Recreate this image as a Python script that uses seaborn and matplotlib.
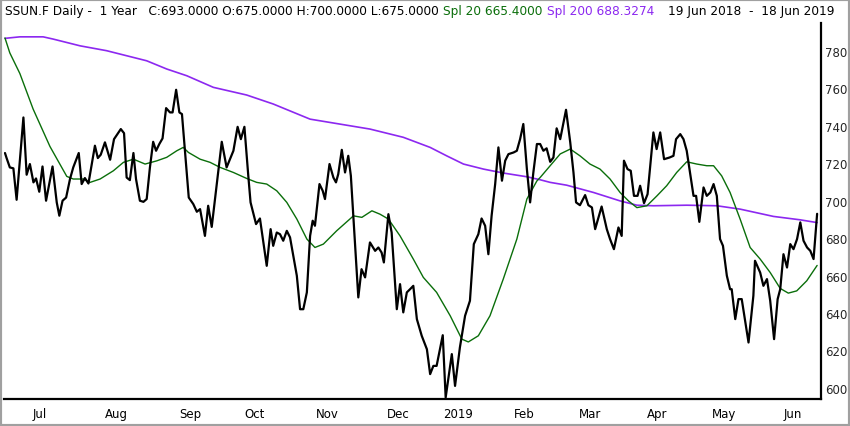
"""
SSUN.F daily price, 1 year, with 20 and 200 day simple moving averages
"""
import pandas as pd
import matplotlib
matplotlib.use("Agg")
import matplotlib.pyplot as plt
from matplotlib.patches import Rectangle
import seaborn as sns

# trading-day index (0 = 19 Jun 2018) and closing price
price_day = [
    0.0, 0.5, 1.5, 2.6, 3.6, 5.7, 6.7, 7.7, 8.8, 9.6, 10.6, 11.6, 12.7, 14.7, 16.0,
    16.8, 17.8, 18.9, 20.1, 21.1, 22.8, 23.7, 24.7, 25.8, 27.8, 28.7, 29.6, 30.9,
    32.5, 33.7, 35.8, 36.8, 37.6, 38.6, 39.7, 40.5, 41.7, 42.8, 43.8, 44.8, 45.8,
    46.7, 47.7, 48.7, 49.8, 51.0, 51.8, 52.9, 53.9, 54.7, 56.8, 58.2, 59.3, 60.3,
    61.8, 62.8, 63.9, 67.0, 68.5, 70.6, 71.9, 72.9, 74.0, 75.2, 75.9, 77.6, 78.8,
    80.9, 82.1, 82.9, 84.0, 85.0, 86.0, 87.1, 88.1, 89.1, 90.2, 91.2, 92.2, 93.3,
    94.3, 95.1, 95.8, 97.2, 98.2, 98.9, 100.3, 101.5, 102.3, 103.0, 104.1, 105.1,
    106.1, 106.9, 109.2, 110.2, 111.3, 112.8, 114.4, 115.4, 116.4, 117.1, 118.5,
    119.5, 121.1, 122.1, 123.1, 124.2, 125.2, 126.2, 127.3, 128.8, 130.4, 131.4,
    132.4, 133.4, 135.3, 136.2, 137.0, 138.1, 139.1, 140.6, 142.2, 143.7, 144.9,
    146.3, 147.3, 148.4, 149.4, 150.4, 151.5, 152.5, 153.6, 154.6, 155.6, 157.2,
    158.2, 159.2, 160.2, 161.3, 162.3, 163.3, 164.4, 165.4, 166.4, 167.4, 168.5,
    169.5, 170.5, 171.6, 173.4, 174.7, 175.7, 176.5, 177.7, 179.3, 180.3, 181.4,
    182.4, 184.4, 186.0, 187.0, 188.2, 189.6, 190.6, 191.3, 192.4, 193.4, 194.4,
    195.5, 196.3, 197.5, 198.6, 200.4, 201.4, 202.5, 203.7, 205.4, 206.6, 207.4,
    208.7, 209.7, 210.7, 212.0, 212.8, 213.6, 214.6, 215.9, 216.9, 218.0, 219.0,
    220.0, 221.0, 221.9, 223.1, 224.1, 224.6, 225.7, 226.7, 227.7, 229.8, 231.3,
    231.8, 233.4, 234.4, 235.5, 236.5, 237.7, 238.8, 239.6, 240.6, 241.7, 242.7,
    243.7, 244.8, 245.8, 246.8, 247.9, 248.9, 249.9, 251.0,
]
price_val = [
    725.5, 722.8, 717.8, 717.3, 700.5, 744.5, 713.9, 719.6, 709.8, 711.9, 704.8,
    718.3, 700.0, 718.3, 699.1, 692.0, 700.0, 701.7, 711.6, 717.8, 725.5, 708.9,
    712.1, 709.2, 729.4, 722.8, 724.6, 731.2, 721.9, 732.9, 738.3, 736.1, 712.4,
    711.0, 725.5, 711.6, 700.0, 699.4, 700.9, 717.8, 731.5, 726.7, 730.3, 733.3,
    749.5, 747.2, 747.2, 759.3, 747.2, 746.3, 701.7, 698.2, 694.1, 695.5, 681.2,
    697.3, 686.0, 731.5, 717.8, 726.7, 739.5, 732.9, 739.5, 713.3, 699.1, 687.5,
    690.5, 665.2, 684.8, 675.9, 683.0, 682.1, 678.6, 683.9, 680.4, 670.5, 659.9,
    642.0, 642.0, 651.0, 681.2, 689.3, 686.6, 708.9, 705.3, 700.9, 719.6, 712.4,
    709.8, 714.2, 727.2, 715.1, 724.0, 713.3, 648.3, 663.4, 659.0, 677.7, 673.2,
    675.0, 672.3, 667.0, 692.8, 683.0, 642.0, 655.4, 640.3, 651.0, 652.7, 654.5,
    636.7, 627.8, 620.6, 607.3, 611.7, 611.7, 628.1, 594.8, 604.6, 618.0, 601.0,
    621.6, 638.5, 646.5, 676.8, 682.1, 690.5, 686.6, 671.4, 692.0, 708.9, 728.5,
    710.7, 721.4, 724.9, 725.8, 726.7, 732.9, 741.0, 716.9, 699.1, 715.1, 730.3,
    730.3, 726.7, 728.0, 720.8, 723.1, 738.7, 732.9, 748.6, 731.2, 715.1, 699.1,
    697.6, 703.0, 697.6, 696.4, 684.8, 696.9, 684.8, 679.5, 674.1, 685.7, 681.2,
    721.4, 716.9, 716.0, 702.6, 702.6, 708.0, 698.7, 703.5, 736.5, 727.6, 736.5,
    722.2, 723.1, 724.0, 732.9, 735.6, 732.9, 726.7, 711.6, 702.6, 702.6, 688.7,
    707.1, 702.6, 704.4, 708.9, 702.6, 679.5, 675.9, 659.9, 652.7, 652.7, 636.7,
    647.4, 647.4, 624.2, 649.2, 667.9, 661.6, 654.5, 658.1, 646.5, 626.0, 647.4,
    652.7, 671.4, 664.3, 676.8, 674.1, 679.5, 688.4, 678.6, 675.0, 673.2, 668.8,
    693.0,
]

# 20 day simple moving average
spl20_day = [
    0.0, 1.5, 4.6, 8.7, 13.9, 19.1, 21.1, 24.2, 26.3, 29.4, 33.5, 36.6, 39.7, 43.3,
    46.9, 50.0, 53.1, 55.1, 56.7, 60.3, 63.4, 66.5, 70.6, 74.7, 77.8, 80.9, 84.0,
    87.1, 90.2, 93.3, 95.8, 98.4, 102.5, 107.7, 110.3, 113.4, 115.9, 118.5, 122.1,
    126.2, 129.3, 133.4, 137.6, 141.2, 143.2, 146.3, 149.9, 154.0, 158.2, 161.3,
    164.4, 165.4, 168.5, 171.6, 174.7, 177.7, 180.8, 183.9, 187.0, 190.1, 192.7,
    195.3, 198.4, 201.5, 204.5, 207.6, 210.7, 213.8, 216.9, 219.0, 221.5, 224.1,
    227.2, 230.3, 233.4, 236.5, 239.6, 242.1, 244.7, 247.8, 251.0,
]
spl20_val = [
    787.0, 779.0, 768.0, 749.0, 729.0, 713.0, 711.6, 711.6, 709.8, 711.6, 716.0,
    720.5, 722.2, 719.6, 721.3, 723.2, 726.7, 728.5, 725.8, 722.2, 720.5, 717.8,
    715.1, 711.9, 709.8, 708.9, 705.3, 699.1, 690.2, 679.5, 675.0, 676.8, 683.9,
    691.9, 691.1, 694.6, 692.8, 690.2, 681.2, 668.8, 659.0, 651.0, 638.5, 626.0,
    624.5, 627.8, 638.5, 658.1, 679.5, 700.9, 710.6, 712.4, 718.7, 725.0, 727.6,
    724.0, 719.6, 716.9, 711.6, 704.4, 699.9, 696.3, 697.3, 702.6, 708.0, 715.1,
    720.8, 719.6, 718.7, 718.7, 713.3, 704.4, 690.2, 675.0, 668.8, 661.6, 653.1,
    650.6, 651.8, 657.2, 665.4,
]

# 200 day simple moving average
spl200_day = [
    0.0, 4.6, 11.8, 14.9, 23.2, 31.4, 43.8, 50.0, 56.2, 64.4, 74.7, 82.9, 91.2,
    94.3, 112.8, 123.1, 131.4, 136.5, 141.7, 147.9, 154.0, 161.3, 165.4, 168.5,
    173.6, 181.9, 190.1, 195.3, 200.4, 210.7, 220.0, 227.2, 237.5, 245.7, 251.0,
]
spl200_val = [
    786.8, 787.6, 787.6, 786.4, 782.8, 780.2, 774.8, 770.4, 766.8, 760.6, 756.5,
    751.7, 745.8, 743.6, 738.3, 733.9, 728.5, 724.0, 719.6, 716.9, 714.8, 712.8,
    711.2, 709.8, 708.3, 704.4, 699.9, 697.6, 697.3, 697.6, 697.3, 695.5, 691.6,
    689.8, 688.3,
]

# month labels and where they sit on the trading-day axis
month_labels = ["Jul", "Aug", "Sep", "Oct", "Nov", "Dec", "2019",
                "Feb", "Mar", "Apr", "May", "Jun"]
month_days = [8.7, 30.9, 53.8, 73.9, 96.1, 118.1, 135.4,
              157.3, 177.4, 198.4, 218.5, 240.8]

price_ticks = [600, 620, 640, 660, 680, 700, 720, 740, 760, 780]

GREEN = "#0a6e0a"
PURPLE = "#8c28f0"


def main():
    sns.set_style("white")
    plt.rcParams["font.family"] = ["DejaVu Sans"]

    price = pd.DataFrame({"day": price_day, "close": price_val})
    spl20 = pd.DataFrame({"day": spl20_day, "value": spl20_val})
    spl200 = pd.DataFrame({"day": spl200_day, "value": spl200_val})

    fig = plt.figure(figsize=(8.5, 4.27), dpi=100)
    ax = fig.add_axes([4 / 850, 27 / 427, 817 / 850, 376 / 427])

    sns.lineplot(data=spl200, x="day", y="value", color=PURPLE, linewidth=1.2,
                 estimator=None, ax=ax)
    sns.lineplot(data=spl20, x="day", y="value", color=GREEN, linewidth=1.0,
                 estimator=None, ax=ax)
    sns.lineplot(data=price, x="day", y="close", color="black", linewidth=1.6,
                 estimator=None, ax=ax)

    ax.set_xlim(-0.3, 252.2)
    ax.set_ylim(594, 795)
    ax.set_xlabel("")
    ax.set_ylabel("")

    ax.set_xticks(month_days)
    ax.set_xticklabels(month_labels, ha="left", fontsize=8.5)
    ax.tick_params(axis="x", direction="out", length=5, width=1.5, pad=1,
                   colors="black")

    ax.yaxis.tick_right()
    ax.set_yticks(price_ticks)
    ax.set_yticklabels([str(t) for t in price_ticks], fontsize=8.5)
    ax.tick_params(axis="y", length=0, pad=3)

    for side in ["left", "top"]:
        ax.spines[side].set_visible(False)
    for side in ["right", "bottom"]:
        ax.spines[side].set_color("black")
        ax.spines[side].set_linewidth(1.6)

    # header line
    y_head = 1 - 12 / 427
    fig.text(5 / 850, y_head, "SSUN.F Daily -  1 Year   C:693.0000 O:675.0000 "
             "H:700.0000 L:675.0000", fontsize=8.7, va="center", color="black")
    fig.text(443 / 850, y_head, "Spl 20 665.4000", fontsize=8.7, va="center",
             color=GREEN)
    fig.text(547 / 850, y_head, "Spl 200 688.3274", fontsize=8.7, va="center",
             color=PURPLE)
    fig.text(668 / 850, y_head, "19 Jun 2018  -  18 Jun 2019", fontsize=8.7,
             va="center", color="black")

    # grey frame round the picture
    fig.add_artist(Rectangle((0, 0), 1, 1, transform=fig.transFigure,
                             fill=False, edgecolor="#a0a0a0", linewidth=3))

    fig.savefig("out.png", dpi=100)


if __name__ == "__main__":
    main()
